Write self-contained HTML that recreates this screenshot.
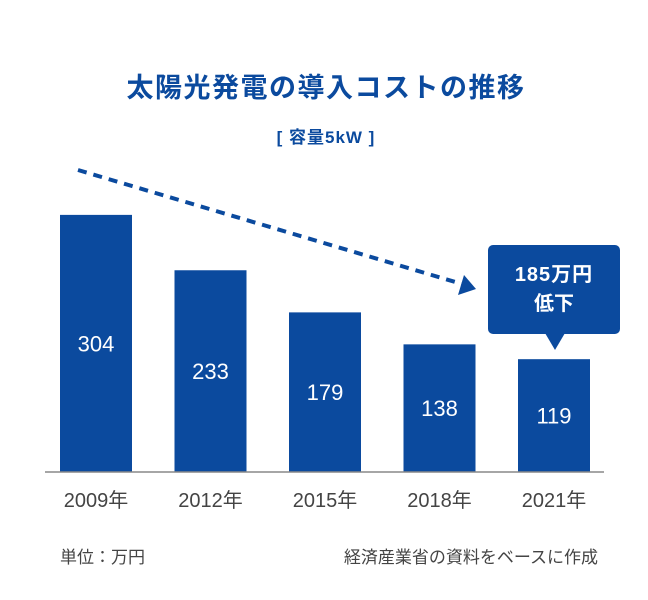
<!DOCTYPE html>
<html><head><meta charset="utf-8">
<style>
html,body{margin:0;padding:0;background:#fff;}
svg{display:block;font-family:"Liberation Sans","Noto Sans CJK JP",sans-serif;}
</style></head>
<body>
<svg id="chart" width="648" height="600" viewBox="0 0 648 600">
<text x="326" y="97" text-anchor="middle" font-size="27" font-weight="bold" fill="#0b4a9e" letter-spacing="1.5">太陽光発電の導入コストの推移</text>
<text x="326" y="143" text-anchor="middle" font-size="17" font-weight="bold" fill="#0b4a9e" letter-spacing="1">[ 容量5kW ]</text>
<g id="bars"></g>
<line x1="45" y1="472" x2="604" y2="472" stroke="#888" stroke-width="1.5"/>
<line x1="78" y1="170" x2="462" y2="284" stroke="#0b4a9e" stroke-width="4" stroke-dasharray="9,7"/>
<polygon points="476,289 458,295 464,275" fill="#0b4a9e"/>
<g>
<rect x="488" y="245" width="132" height="89" rx="5" fill="#0b4a9e"/>
<polygon points="545,333 565,333 555,350" fill="#0b4a9e"/>
<text x="554" y="281" text-anchor="middle" font-size="20" font-weight="bold" fill="#fff" letter-spacing="1">185万円</text>
<text x="554" y="310" text-anchor="middle" font-size="20" font-weight="bold" fill="#fff">低下</text>
</g>
<text x="60" y="563" font-size="17" fill="#444">単位：万円</text>
<text x="598" y="563" text-anchor="end" font-size="17" fill="#444">経済産業省の資料をベースに作成</text>
</svg>
<script>
const categories = ["2009年","2012年","2015年","2018年","2021年"];
const values = [304,233,179,138,119];
const valueLabels = ["304","233","179","138","119"];
const baseline = 472;
function xScale(i){ return 60 + i*114.5; }
function hScale(v){ return 20 + v*0.78; }
const g = document.getElementById('bars');
const NS = "http://www.w3.org/2000/svg";
values.forEach((v,i)=>{
  const x = xScale(i), h = hScale(v), y = baseline - h;
  const r = document.createElementNS(NS,'rect');
  r.setAttribute('x',x); r.setAttribute('y',y); r.setAttribute('width',72); r.setAttribute('height',h);
  r.setAttribute('fill','#0b4a9e');
  
  
  g.appendChild(r);
  const t = document.createElementNS(NS,'text');
  t.setAttribute('x',x+36); t.setAttribute('y',y+h/2+8); t.setAttribute('text-anchor','middle');
  t.setAttribute('font-size','22'); t.setAttribute('fill','#fff');
  t.textContent = valueLabels[i];
  
  
  g.appendChild(t);
  const c = document.createElementNS(NS,'text');
  c.setAttribute('x',x+36); c.setAttribute('y',507); c.setAttribute('text-anchor','middle');
  c.setAttribute('font-size','20'); c.setAttribute('fill','#444');
  c.textContent = categories[i];
  
  
  g.appendChild(c);
});
</script>
</body></html>
